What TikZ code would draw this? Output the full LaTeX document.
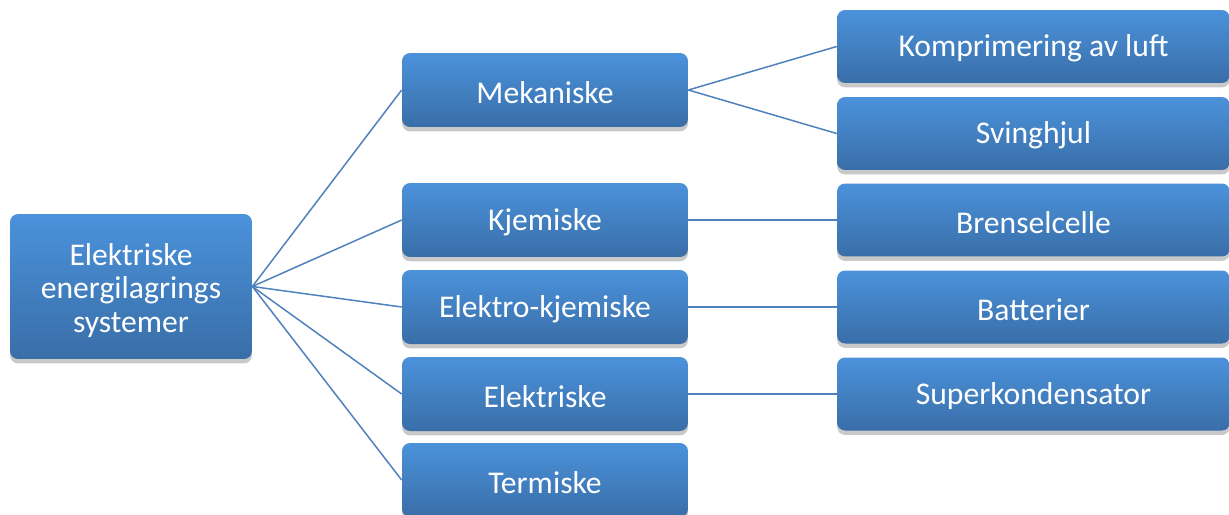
\documentclass[tikz,border=0pt]{standalone}
\usepackage{fontspec}
\setmainfont{Carlito}
\usetikzlibrary{shadows}
\definecolor{boxtop}{RGB}{75,146,219}
\definecolor{boxbot}{RGB}{57,110,168}
\definecolor{linkblue}{RGB}{79,129,189}

\begin{document}
\begin{tikzpicture}[x=0.02cm,y=-0.02cm,
  box/.style={rounded corners=0.16cm,top color=boxtop,bottom color=boxbot,
    text=white,align=center,inner sep=0pt,
    font=\fontsize{18}{19}\selectfont,
    execute at begin node=\rule{0pt}{15pt},
    drop shadow={shadow xshift=0pt,shadow yshift=-2.5pt,opacity=0.3,fill=black!70}},
  rootbox/.style={box,minimum width=4.84cm,minimum height=2.9cm},
  midbox/.style={box,minimum width=5.72cm,minimum height=1.48cm},
  leafbox/.style={box,minimum width=7.86cm,minimum height=1.46cm},
  link/.style={draw=linkblue,line width=0.85pt}]
  \useasboundingbox (0,0) rectangle (1229,514);
  \clip (0,0) rectangle (1229,514);
  \node[rootbox] (root) at (131,286.5)
    {\rule{0pt}{17pt}Elektriske\\energilagrings\\systemer};
  \node[midbox] (mek) at (545,90) {Mekaniske};
  \node[midbox] (kjem) at (545,220) {Kjemiske};
  \node[midbox] (ekjem) at (545,307) {Elektro-kjemiske};
  \node[midbox] (elek) at (545,394) {Elektriske};
  \node[midbox] (term) at (545,480) {Termiske};
  \node[leafbox] (luft) at (1033.5,46.5) {Komprimering av luft};
  \node[leafbox] (sving) at (1033.5,133.5) {Svinghjul};
  \node[leafbox] (brensel) at (1033.5,220) {Brenselcelle};
  \node[leafbox] (batt) at (1033.5,307) {Batterier};
  \node[leafbox] (super) at (1033.5,394) {Superkondensator};
  \foreach \m in {mek,kjem,ekjem,elek,term}
    \draw[link] (root.east) -- (\m.west);
  \draw[link] (mek.east) -- (luft.west);
  \draw[link] (mek.east) -- (sving.west);
  \draw[link] (kjem.east) -- (brensel.west);
  \draw[link] (ekjem.east) -- (batt.west);
  \draw[link] (elek.east) -- (super.west);
\end{tikzpicture}
\end{document}
